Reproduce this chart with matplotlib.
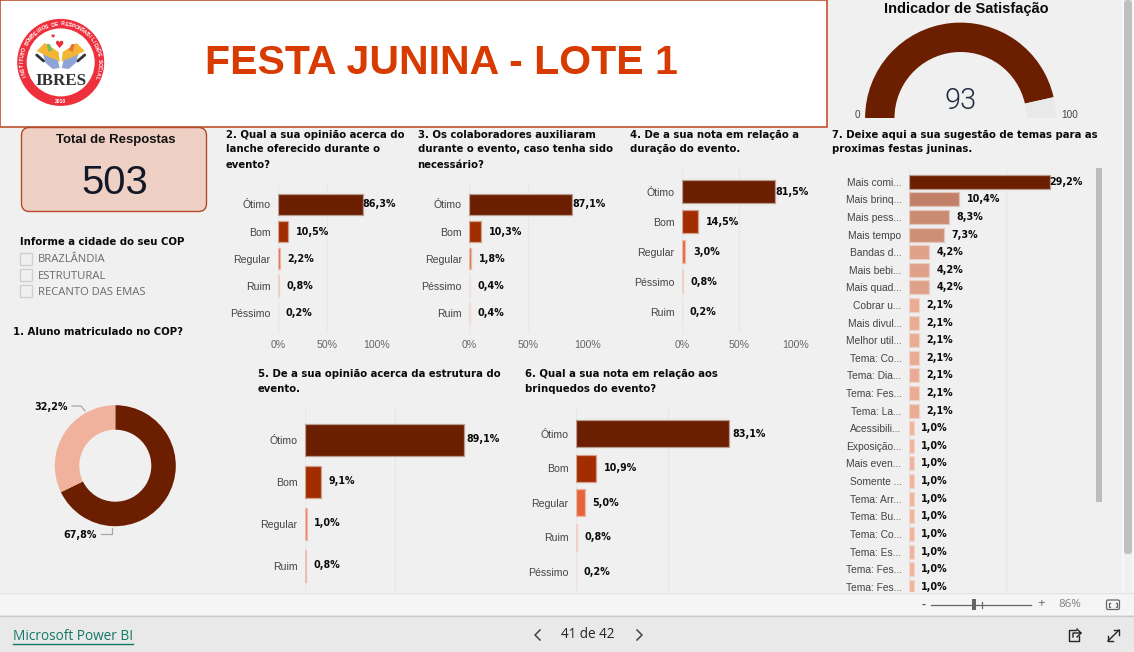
import numpy as np
import matplotlib
matplotlib.use("Agg")
import matplotlib.pyplot as plt
from matplotlib.colors import to_rgb
from matplotlib.patches import Rectangle, FancyBboxPatch, Circle, Polygon

W, H = 1134, 652
DARK = "#6B1E00"
PX = 0.72

q2_labels = ["Ótimo", "Bom", "Regular", "Ruim", "Péssimo"]
q2_values = [86.3, 10.5, 2.2, 0.8, 0.2]
q3_labels = ["Ótimo", "Bom", "Regular", "Péssimo", "Ruim"]
q3_values = [87.1, 10.3, 1.8, 0.4, 0.4]
q4_labels = ["Ótimo", "Bom", "Regular", "Péssimo", "Ruim"]
q4_values = [81.5, 14.5, 3.0, 0.8, 0.2]
q5_labels = ["Ótimo", "Bom", "Regular", "Ruim"]
q5_values = [89.1, 9.1, 1.0, 0.8]
q6_labels = ["Ótimo", "Bom", "Regular", "Ruim", "Péssimo"]
q6_values = [83.1, 10.9, 5.0, 0.8, 0.2]
q7_labels = ["Mais comi...", "Mais brinq...", "Mais pess...", "Mais tempo", "Bandas d...",
             "Mais bebi...", "Mais quad...", "Cobrar u...", "Mais divul...", "Melhor util...",
             "Tema: Co...", "Tema: Dia...", "Tema: Fes...", "Tema: La...", "Acessibili...",
             "Exposição...", "Mais even...", "Somente ...", "Tema: Arr...", "Tema: Bu...",
             "Tema: Co...", "Tema: Es...", "Tema: Fes...", "Tema: Fes..."]
q7_values = [29.2, 10.4, 8.3, 7.3, 4.2, 4.2, 4.2, 2.1, 2.1, 2.1, 2.1, 2.1, 2.1, 2.1,
             1.0, 1.0, 1.0, 1.0, 1.0, 1.0, 1.0, 1.0, 1.0, 1.0]
q1_values = [67.8, 32.2]
gauge_value = 93
gauge_max = 100
total_respostas = "503"
cidades = ["BRAZLÂNDIA", "ESTRUTURAL", "RECANTO DAS EMAS"]

rank_colors = ["#6B1E00", "#A32C00", "#E5653A", "#F0A088", "#F5C4B4"]
q5_colors = ["#6B1E00", "#A32C00", "#E8704E", "#E8704E"]
q3_colors = ["#6B1E00", "#A32C00", "#E5653A", "#F5CDBF", "#F2BBA8"]
q7_colors = ["#6B1E00", "#C28068", "#CB8A72", "#CF8E76", "#E0A18A", "#E0A18A", "#E0A18A"] + \
            ["#EAAB94"] * 7 + ["#EFB29C"] * 10

fig = plt.figure(figsize=(W / 100, H / 100), dpi=100, facecolor="#F0F0F0")


def rect(x0, y0, x1, y1):
    return [x0 / W, 1 - y1 / H, (x1 - x0) / W, (y1 - y0) / H]


def pixel_axes(z):
    ax = fig.add_axes([0, 0, 1, 1], zorder=z)
    ax.set_xlim(0, W)
    ax.set_ylim(H, 0)
    ax.axis("off")
    ax.patch.set_alpha(0)
    return ax


bg = pixel_axes(0)
fg = pixel_axes(5)

BODY = "Liberation Sans"
HEAD = "DejaVu Sans"


def head(x, y, lines, ax=bg):
    for i, s in enumerate(lines):
        ax.text(x, y + i * 15, s, family=HEAD, weight="bold", fontsize=10.1 * PX,
                color="#0A0A0A", va="center", ha="left")


def edge_of(color, bgc=(0.94, 0.94, 0.94), mix=0.6):
    c = np.array(to_rgb(color))
    return tuple(c * (1 - mix) + np.array(bgc) * mix)


def bars(labels, values, colors, x0, x1, xmax, top, bot, c0, step, h, ticks=None,
         first_offset=2, fs=10.5, label_gap=7.5, show_ticks=False):
    ax = fig.add_axes(rect(x0, top, x1, bot), zorder=2)
    ax.patch.set_alpha(0)
    y = np.arange(len(values))
    ax.barh(y, values, height=h / step, color=colors, edgecolor=[edge_of(c) for c in colors],
            linewidth=0.9, zorder=3)
    ax.set_xlim(0, xmax)
    ax.set_ylim((bot - c0) / step, (top - c0) / step)
    for s in ax.spines.values():
        s.set_visible(False)
    ax.set_yticks(y)
    ax.set_yticklabels(labels, family=BODY, fontsize=fs * PX, color="#444444")
    ax.tick_params(axis="y", length=0, pad=label_gap * PX)
    ax.set_xticks(ticks)
    if show_ticks:
        ax.set_xticklabels([f"{t}%" for t in ticks], family=BODY, fontsize=10.5 * PX, color="#666666")
        ax.tick_params(axis="x", length=0, pad=6.5 * PX)
    else:
        ax.tick_params(axis="x", length=0, labelbottom=False)
    ax.grid(axis="x", color="#E8E8E8", linewidth=1, zorder=0)
    ax.set_axisbelow(True)
    for i, v in enumerate(values):
        off = first_offset if i == 0 else 7.5
        ax.annotate(f"{v:.1f}%".replace(".", ","), (v, i), xytext=(off * PX, 0), textcoords="offset points",
                    family=HEAD, weight="bold", fontsize=9.6 * PX, color="#0A0A0A",
                    va="center", ha="left", annotation_clip=False, zorder=6)
    return ax


# Header
bg.add_patch(Rectangle((0, 0), 827, 127, fc="white", ec="#C0512E", lw=1.2))
bg.text(441.5, 63.5, "FESTA JUNINA - LOTE 1", family=BODY, weight="bold", fontsize=41 * PX,
        color="#D83B01", ha="center", va="center")

# Logo
lx, ly = 60.7, 62.4
bg.add_patch(Circle((lx, ly), 43.5, fc="#EE2F3C", ec="none"))
bg.add_patch(Circle((lx, ly), 34, fc="white", ec="none"))
ring = "INSTITUTO BOMBEIROS DE RESPONSABILIDADE SOCIAL"
for ch, a in zip(ring, np.linspace(200, -22, len(ring))):
    r = 38.5
    bg.text(lx + r * np.cos(np.radians(a)), ly - r * np.sin(np.radians(a)), ch, family=BODY, weight="bold",
            fontsize=3.8, color="white", rotation=a - 90, ha="center", va="center", rotation_mode="anchor")
bg.text(lx, ly + 39, "2010", family=BODY, weight="bold", fontsize=3.6, color="white", ha="center", va="center")
bg.text(lx, 81, "IBRES", family="Liberation Serif", weight="bold", fontsize=17 * PX, color="#333333",
        ha="center", va="center")
for sx in (-1, 1):
    bg.add_patch(Polygon([(lx + sx * 1, 68), (lx + sx * 4, 56), (lx + sx * 18, 53), (lx + sx * 15, 63), (lx + sx * 8, 69)],
                         fc="#8EA4D6", ec="none"))
    bg.add_patch(Polygon([(lx + sx * 1, 62), (lx + sx * 2, 52), (lx + sx * 16, 43), (lx + sx * 24, 51), (lx + sx * 12, 57), (lx + sx * 4, 60)],
                         fc="#F2B632", ec="none"))
    bg.add_patch(Polygon([(lx + sx * 8, 50), (lx + sx * 11, 44), (lx + sx * 14, 44), (lx + sx * 12, 52)],
                         fc="#7CB95B" if sx < 0 else "#E8703A", ec="none"))
    bg.plot([lx + sx * 17, lx + sx * 24], [61, 55], color="#333333", lw=2, solid_capstyle="round")
bg.text(lx - 1.5, 45, "♥", family="DejaVu Sans", fontsize=7.5, color="#E8303C", ha="center", va="center")
bg.text(lx - 7.5, 36.5, "♥", family="DejaVu Sans", fontsize=3.5, color="#E8303C", ha="center", va="center")

# Total card
bg.add_patch(FancyBboxPatch((21.5 + 8, 127.5 + 8), 185 - 16, 84 - 16, boxstyle="round,pad=8,rounding_size=8",
                            fc="#EFD0C4", ec="#B5492A", lw=1))
bg.text(115.7, 140, "Total de Respostas", family=BODY, weight="bold", fontsize=13.3 * PX, color="#111111",
        ha="center", va="center")
bg.text(115, 182.5, total_respostas, family=BODY, fontsize=40 * PX, color="#111827", ha="center", va="center")

# Slicer
head(19.5, 242, ["Informe a cidade do seu COP"])
for i, c in enumerate(cidades):
    yy = 253 + i * 16.2
    bg.add_patch(Rectangle((19.5, yy), 12, 11.5, fc="#F0F0F0", ec="#D0D0D0", lw=1))
    bg.text(38, yy + 7, c, family="Open Sans", fontsize=11.3 * PX, color="#6A6A6A", ha="left", va="center")

# Q1 donut
head(13, 332, ["1. Aluno matriculado no COP?"])
cx, cy, R = 115.3, 465.7, 60.5
d = fig.add_axes(rect(cx - R, cy - R, cx + R, cy + R), zorder=2)
d.pie(q1_values, colors=[DARK, "#F0B29C"], startangle=90, counterclock=False, radius=1,
      wedgeprops=dict(width=1 - 36 / R, linewidth=0))
d.set_xlim(-1, 1)
d.set_ylim(-1, 1)
bg.plot([72, 81, 85], [406, 406, 411], color="#A8A8A8", lw=0.9)
bg.plot([101, 112, 112], [534, 534, 528], color="#A8A8A8", lw=0.9)
for x, y, v in [(51, 407, q1_values[1]), (80, 535.5, q1_values[0])]:
    bg.text(x, y, f"{v:.1f}%".replace(".", ","), family=HEAD, weight="bold", fontsize=9.6 * PX,
            color="#0A0A0A", ha="center", va="center")

# Gauge
gx, gy, GR = 960.5, 118, 95.4
g = fig.add_axes(rect(gx - GR, gy - GR, gx + GR, gy + GR), zorder=2)
g.pie([gauge_value, gauge_max - gauge_value, gauge_max], colors=[DARK, "#E9E9E9", "none"], startangle=180,
      counterclock=False, radius=1, wedgeprops=dict(width=1 - 66 / GR, linewidth=0))
g.set_xlim(-1, 1)
g.set_ylim(-1, 1)
bg.text(966, 9, "Indicador de Satisfação", family=BODY, weight="bold", fontsize=14.6 * PX, color="#0A0A0A",
        ha="center", va="center")
fg.text(961, 101, str(gauge_value), family="Roboto", weight=300, fontsize=29 * PX, color="#1E2A3E",
        ha="center", va="center")
bg.text(857.5, 114.5, "0", family=BODY, fontsize=10 * PX, color="#444444", ha="center", va="center")
bg.text(1069.5, 114.5, str(gauge_max), family=BODY, fontsize=10 * PX, color="#444444", ha="center", va="center")

# Bars
T = [0, 50, 100]
head(226, 134.5, ["2. Qual a sua opinião acerca do", "lanche oferecido durante o", "evento?"])
bars(q2_labels, q2_values, rank_colors, 278, 376.7, 100, 183, 333, 204.3, 27.2, 21, T, first_offset=-1, show_ticks=True)
head(417.5, 134.5, ["3. Os colaboradores auxiliaram", "durante o evento, caso tenha sido", "necessário?"])
bars(q3_labels, q3_values, q3_colors, 469.3, 587.3, 100, 182, 333, 204.3, 27.2, 21, T, first_offset=0, show_ticks=True)
head(630.5, 134.5, ["4. De a sua nota em relação a", "duração do evento."])
bars(q4_labels, q4_values, rank_colors, 682, 795.6, 100, 168, 333, 191.5, 30, 23, T, first_offset=1, show_ticks=True)
head(258, 373.7, ["5. De a sua opinião acerca da estrutura do", "evento."])
bars(q5_labels, q5_values, q5_colors, 305, 484, 100, 407, 592, 439.5, 42, 32, T, first_offset=2)
head(524.6, 373.7, ["6. Qual a sua nota em relação aos", "brinquedos do evento?"])
bars(q6_labels, q6_values, rank_colors, 576, 759.7, 100, 407, 592, 433.7, 34.5, 27, T, first_offset=4)
head(832.5, 134.5, ["7. Deixe aqui a sua sugestão de temas para as", "proximas festas juninas."])
bars(q7_labels, q7_values, q7_colors, 909, 1102.2, 40, 167, 592, 181.7, 17.61, 14, [0, 20, 40], first_offset=-1, fs=10.3)

# Visual scrollbar
fg.add_patch(Rectangle((1096, 168), 6, 334, fc="#BDBDBD", ec="none"))

# Page scrollbar
fg.add_patch(Rectangle((1122, 0), 2, 592, fc="#F7F7F7", ec="none"))
fg.add_patch(FancyBboxPatch((1127, 3), 2, 548, boxstyle="round,pad=3,rounding_size=3", fc="#C0C0C0", ec="none"))
fg.add_patch(Rectangle((1132, 0), 2, 592, fc="#F7F7F7", ec="none"))

# Zoom bar and footer
fg.add_patch(Rectangle((0, 592), W, 23, fc="#F5F5F5", ec="none"))
fg.plot([0, W], [592.5, 592.5], color="#E2E2E2", lw=1)
fg.add_patch(Rectangle((0, 615), W, 37, fc="#E9E9E9", ec="none"))
fg.plot([0, W], [615.5, 615.5], color="#C8C8C8", lw=1)
fg.text(924, 604.5, "-", family=BODY, weight="bold", fontsize=12 * PX, color="#555555", ha="center", va="center")
fg.plot([931, 1031], [604.5, 604.5], color="#666666", lw=0.9)
fg.add_patch(Rectangle((972, 598.5), 4, 11.5, fc="#666666", ec="none"))
fg.plot([981.5, 981.5], [601.5, 607.5], color="#666666", lw=0.9)
fg.text(1041, 604.5, "+", family=BODY, fontsize=13 * PX, color="#666666", ha="center", va="center")
fg.text(1069.5, 604.5, "86%", family="Open Sans", fontsize=11.5 * PX, color="#808080", ha="center", va="center")
fg.add_patch(FancyBboxPatch((1106.5, 600), 13, 9.5, boxstyle="round,pad=0,rounding_size=1.5", fc="none", ec="#666666", lw=0.9))
fg.plot([1110, 1109, 1109, 1110], [602.5, 602.5, 607, 607], color="#666666", lw=0.9)
fg.plot([1116, 1117, 1117, 1116], [602.5, 602.5, 607, 607], color="#666666", lw=0.9)

fg.text(13, 636, "Microsoft Power BI", family="Open Sans", fontsize=13.6 * PX, color="#117865", ha="left", va="center")
fg.plot([13, 133], [643.5, 643.5], color="#117865", lw=1)
fg.text(588, 635, "41 de 42", family="Open Sans", fontsize=13.5 * PX, color="#252423", ha="center", va="center")
fg.plot([540, 535, 540], [630, 635, 640], color="#444444", lw=1.1)
fg.plot([637, 642, 637], [630, 635, 640], color="#444444", lw=1.1)
# Share icon
fg.plot([1076, 1069, 1069, 1079, 1079], [630, 630, 641, 641, 636], color="#252423", lw=1)
fg.plot([1073, 1073, 1081, 1077], [637, 633, 633, 629], color="#252423", lw=1)
fg.plot([1081, 1077], [633, 637], color="#252423", lw=1)
# Expand icon
fg.plot([1108, 1119], [641, 630], color="#252423", lw=1)
fg.plot([1108, 1108, 1113], [636, 641, 641], color="#252423", lw=1)
fg.plot([1114, 1119, 1119], [630, 630, 635], color="#252423", lw=1)

fig.savefig("out.png", dpi=100, facecolor=fig.get_facecolor())
